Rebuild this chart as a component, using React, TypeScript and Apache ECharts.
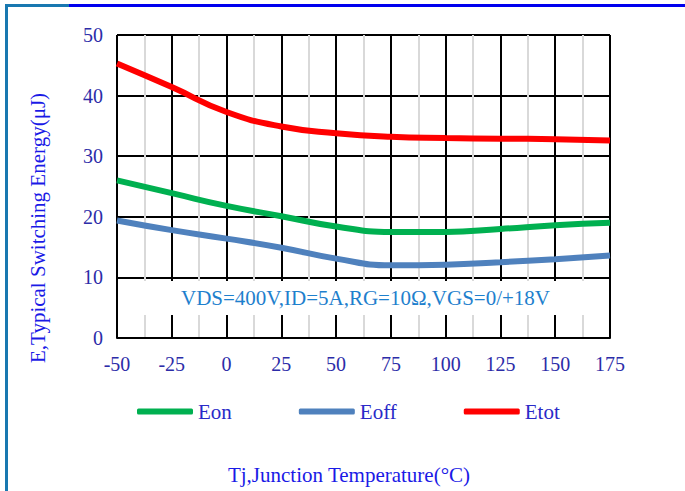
import React, { useEffect, useRef } from "react";
import * as echarts from "echarts";

const temps = [-50, -25, 0, 25, 50, 75, 100, 125, 150, 175];
const eon = [26.0, 23.9, 21.8, 20.1, 18.4, 17.5, 17.5, 18.0, 18.6, 19.0];
const eoff = [19.4, 17.8, 16.4, 14.9, 13.1, 12.0, 12.1, 12.5, 13.0, 13.6];
const etot = [45.3, 41.4, 37.3, 34.9, 33.8, 33.2, 33.0, 32.9, 32.8, 32.6];
const seriesNames = ["Eon", "Eoff", "Etot"];
const seriesColors = ["#00b050", "#4f81bd", "#ff0000"];
const annotation = "VDS=400V,ID=5A,RG=10Ω,VGS=0/+18V";
const xTitle = "Tj,Junction Temperature(°C)";
const yTitle = "E,Typical Switching Energy(μJ)";

const FONT = "'Liberation Serif', 'DejaVu Serif', serif";
const LABEL_COLOR = "#2c2ca8";

export default function App() {
  const ref = useRef<HTMLDivElement>(null);
  useEffect(() => {
    if (!ref.current) return;
    const chart = echarts.init(ref.current, undefined, { renderer: "svg" });
    const datasets = [eon, eoff, etot];
    const series: any[] = datasets.map((vals, i) => ({
      name: seriesNames[i],
      type: "line",
      data: temps.map((t, j) => [t, vals[j]]),
      smooth: 0.5,
      showSymbol: false,
      symbol: "none",
      lineStyle: { color: seriesColors[i], width: 6 },
      itemStyle: { color: seriesColors[i] },
      z: 5,
    }));
    series[0].markArea = {
      silent: true,
      itemStyle: { color: "#ffffff" },
      label: {
        show: true,
        position: "inside",
        color: "rgb(30,128,205)",
        fontFamily: FONT,
        fontSize: 21,
        offset: [2, 0],
      },
      data: [[{ xAxis: -49.4, yAxis: 9.4, name: annotation }, { xAxis: 174.4, yAxis: 3.8 }]],
    };
    chart.setOption({
      animation: false,
      backgroundColor: "#ffffff",
      grid: { left: 117, top: 35, right: 75, bottom: 153, containLabel: false },
      legend: {
        left: 137,
        top: 401,
        padding: 0,
        itemWidth: 56,
        itemHeight: 6,
        itemGap: 67,
        icon: "roundRect",
        textStyle: { fontFamily: FONT, fontSize: 21, color: "#2a2ac8" },
        data: seriesNames.map((n, i) => ({ name: n, itemStyle: { color: seriesColors[i] } })),
      },
      xAxis: {
        type: "value",
        min: -50,
        max: 175,
        interval: 25,
        axisLine: { show: true, onZero: false, lineStyle: { color: "#000", width: 2 } },
        axisTick: { show: false },
        axisLabel: { margin: 16, fontFamily: FONT, fontSize: 20, color: LABEL_COLOR },
        splitLine: { show: true, lineStyle: { color: "#000", width: 2 } },
        minorTick: { show: false, splitNumber: 2 },
        minorSplitLine: { show: true, lineStyle: { color: "#d9d9d9", width: 2 } },
      },
      yAxis: {
        type: "value",
        min: 0,
        max: 50,
        interval: 10,
        axisLine: { show: true, lineStyle: { color: "#000", width: 2 } },
        axisTick: { show: false },
        axisLabel: { margin: 14, fontFamily: FONT, fontSize: 20, color: LABEL_COLOR },
        splitLine: { show: true, lineStyle: { color: "#000", width: 2 } },
      },
      graphic: [
        { type: "rect", shape: { x: 5, y: 4, width: 680, height: 3 }, style: { fill: "#0000ee" }, z: 100 },
        { type: "rect", shape: { x: 5, y: 4, width: 64, height: 3 }, style: { fill: "#1878b0" }, z: 101 },
        { type: "rect", shape: { x: 5, y: 4, width: 3, height: 487 }, style: { fill: "#1878b0" }, z: 101 },
        {
          type: "text",
          x: 349,
          y: 475,
          style: { text: xTitle, fontFamily: FONT, fontSize: 21, fill: "#1a1ae6", align: "center", verticalAlign: "middle" },
          z: 100,
        },
        {
          type: "text",
          x: 38,
          y: 228,
          rotation: Math.PI / 2,
          style: { text: yTitle, fontFamily: FONT, fontSize: 21, fill: "#1a1ae6", align: "center", verticalAlign: "middle" },
          z: 100,
        },
      ],
      series,
    });
    return () => chart.dispose();
  }, []);
  return <div ref={ref} style={{ position: "fixed", left: 0, top: 0, width: 685, height: 491 }} />;
}
